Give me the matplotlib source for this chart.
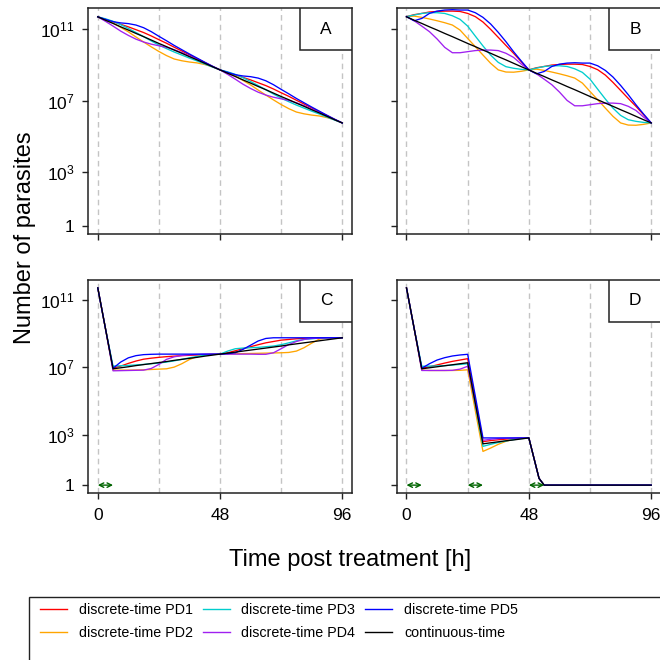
import numpy as np
import matplotlib
matplotlib.use("Agg")
import matplotlib.pyplot as plt
from matplotlib.patches import Rectangle
from matplotlib.lines import Line2D
from matplotlib.ticker import FixedLocator, NullLocator

plt.rcParams['font.family'] = ['Liberation Sans', 'DejaVu Sans']
plt.rcParams['mathtext.fontset'] = 'custom'
plt.rcParams['mathtext.rm'] = 'Liberation Sans'
plt.rcParams['mathtext.it'] = 'Liberation Sans'

# time grids (hours post treatment)
hours = [0, 3, 6, 9, 12, 15, 18, 21, 24, 27, 30, 33, 36, 39, 42, 45, 48,
         51, 54, 57, 60, 63, 66, 69, 72, 75, 78, 81, 84, 87, 90, 93, 96]
hours_d = [0, 3, 6, 9, 12, 15, 18, 21, 24, 27, 30, 33, 36, 39, 42, 45, 48,
           50, 52, 54, 57, 60, 63, 66, 69, 72, 75, 78, 81, 84, 87, 90, 93, 96]

# log10(number of parasites)
a_pd1 = [11.69, 11.54, 11.41, 11.27, 11.13, 10.97, 10.81, 10.62, 10.41, 10.21, 9.99, 9.78, 9.56, 9.35, 9.14, 8.92, 8.72,
         8.57, 8.44, 8.30, 8.16, 8.00, 7.84, 7.65, 7.44, 7.24, 7.02, 6.81, 6.59, 6.38, 6.17, 5.95, 5.75]
a_pd2 = [11.69, 11.52, 11.34, 11.10, 10.85, 10.56, 10.28, 10.01, 9.75, 9.52, 9.33, 9.23, 9.16, 9.11, 9.02, 8.90, 8.72,
         8.55, 8.37, 8.13, 7.88, 7.59, 7.31, 7.04, 6.78, 6.55, 6.36, 6.26, 6.19, 6.14, 6.05, 5.93, 5.75]
a_pd3 = [11.69, 11.58, 11.44, 11.25, 11.04, 10.81, 10.58, 10.34, 10.11, 9.91, 9.72, 9.55, 9.38, 9.22, 9.05, 8.88, 8.72,
         8.61, 8.47, 8.28, 8.07, 7.84, 7.61, 7.37, 7.14, 6.94, 6.75, 6.58, 6.41, 6.25, 6.08, 5.91, 5.75]
a_pd4 = [11.69, 11.44, 11.17, 10.89, 10.65, 10.44, 10.28, 10.16, 10.07, 9.98, 9.85, 9.69, 9.50, 9.31, 9.11, 8.91, 8.72,
         8.47, 8.20, 7.92, 7.68, 7.47, 7.31, 7.19, 7.10, 7.01, 6.88, 6.72, 6.53, 6.34, 6.14, 5.94, 5.75]
a_pd5 = [11.69, 11.55, 11.42, 11.35, 11.31, 11.23, 11.08, 10.86, 10.60, 10.35, 10.09, 9.85, 9.61, 9.38, 9.15, 8.93, 8.72,
         8.58, 8.45, 8.38, 8.34, 8.26, 8.11, 7.89, 7.63, 7.38, 7.12, 6.88, 6.64, 6.41, 6.18, 5.96, 5.75]
a_ct = [11.69, 11.50, 11.32, 11.13, 10.95, 10.76, 10.58, 10.39, 10.20, 10.02, 9.83, 9.65, 9.46, 9.28, 9.09, 8.90, 8.72,
        8.53, 8.35, 8.16, 7.98, 7.79, 7.61, 7.42, 7.23, 7.05, 6.86, 6.68, 6.49, 6.31, 6.12, 5.93, 5.75]

b_pd1 = [11.70, 11.81, 11.88, 11.96, 11.99, 12.01, 12.01, 11.99, 11.88, 11.70, 11.40, 10.99, 10.54, 10.09, 9.65, 9.18, 8.72,
         8.84, 8.91, 8.99, 9.02, 9.04, 9.04, 9.02, 8.91, 8.73, 8.43, 8.02, 7.57, 7.12, 6.68, 6.21, 5.75]
b_pd2 = [11.70, 11.73, 11.66, 11.57, 11.47, 11.36, 11.23, 10.95, 10.48, 10.02, 9.55, 9.09, 8.72, 8.60, 8.59, 8.64, 8.72,
         8.76, 8.69, 8.60, 8.50, 8.39, 8.26, 7.98, 7.51, 7.05, 6.58, 6.12, 5.75, 5.63, 5.62, 5.67, 5.75]
b_pd3 = [11.70, 11.79, 11.88, 11.92, 11.92, 11.88, 11.75, 11.55, 11.17, 10.61, 10.06, 9.55, 9.14, 8.90, 8.81, 8.75, 8.72,
         8.82, 8.91, 8.95, 8.95, 8.91, 8.78, 8.58, 8.20, 7.64, 7.09, 6.58, 6.17, 5.93, 5.84, 5.78, 5.75]
b_pd4 = [11.70, 11.47, 11.17, 10.86, 10.45, 9.98, 9.68, 9.68, 9.74, 9.80, 9.83, 9.83, 9.80, 9.65, 9.42, 9.05, 8.72,
         8.50, 8.20, 7.89, 7.48, 7.01, 6.71, 6.71, 6.77, 6.83, 6.86, 6.86, 6.83, 6.68, 6.45, 6.08, 5.75]
b_pd5 = [11.70, 11.47, 11.60, 11.88, 12.01, 12.07, 12.09, 12.07, 12.07, 11.92, 11.66, 11.29, 10.82, 10.30, 9.74, 9.22, 8.72,
         8.50, 8.63, 8.91, 9.04, 9.10, 9.12, 9.10, 9.10, 8.95, 8.69, 8.32, 7.85, 7.33, 6.77, 6.25, 5.75]
b_ct = [11.69, 11.50, 11.32, 11.13, 10.95, 10.76, 10.58, 10.39, 10.20, 10.02, 9.83, 9.65, 9.46, 9.28, 9.09, 8.90, 8.72,
        8.53, 8.35, 8.16, 7.98, 7.79, 7.61, 7.42, 7.23, 7.05, 6.86, 6.68, 6.49, 6.31, 6.12, 5.93, 5.75]

c_pd1 = [11.70, 9.30, 6.95, 7.06, 7.22, 7.36, 7.47, 7.53, 7.58, 7.62, 7.65, 7.68, 7.70, 7.72, 7.74, 7.76, 7.77,
         7.85, 7.97, 8.09, 8.21, 8.33, 8.44, 8.52, 8.60, 8.64, 8.68, 8.70, 8.72, 8.74, 8.74, 8.74, 8.74]
c_pd2 = [11.70, 9.30, 6.82, 6.82, 6.82, 6.83, 6.84, 6.86, 6.88, 6.90, 7.00, 7.20, 7.45, 7.63, 7.73, 7.76, 7.77,
         7.78, 7.79, 7.80, 7.81, 7.82, 7.83, 7.84, 7.85, 7.87, 7.95, 8.15, 8.42, 8.66, 8.72, 8.74, 8.74]
c_pd3 = [11.70, 9.30, 7.06, 7.08, 7.10, 7.13, 7.16, 7.20, 7.24, 7.30, 7.37, 7.46, 7.55, 7.63, 7.70, 7.75, 7.77,
         7.95, 8.09, 8.13, 8.15, 8.17, 8.21, 8.25, 8.33, 8.44, 8.56, 8.64, 8.68, 8.72, 8.74, 8.74, 8.74]
c_pd4 = [11.70, 9.30, 6.78, 6.79, 6.80, 6.81, 6.82, 6.92, 7.16, 7.46, 7.61, 7.69, 7.73, 7.75, 7.77, 7.77, 7.77,
         7.77, 7.77, 7.77, 7.77, 7.76, 7.76, 7.85, 8.09, 8.34, 8.52, 8.64, 8.70, 8.72, 8.74, 8.74, 8.74]
c_pd5 = [11.70, 9.30, 6.93, 7.30, 7.55, 7.68, 7.74, 7.76, 7.77, 7.77, 7.77, 7.77, 7.77, 7.77, 7.77, 7.77, 7.77,
         7.80, 7.85, 8.05, 8.30, 8.55, 8.70, 8.74, 8.74, 8.74, 8.74, 8.74, 8.74, 8.74, 8.74, 8.74, 8.74]
c_ct = [11.70, 9.30, 6.90, 6.96, 7.02, 7.09, 7.15, 7.21, 7.27, 7.33, 7.40, 7.46, 7.52, 7.58, 7.65, 7.71, 7.77,
        7.83, 7.89, 7.95, 8.01, 8.07, 8.13, 8.19, 8.25, 8.32, 8.38, 8.44, 8.50, 8.56, 8.62, 8.68, 8.74]

d_pd1 = [11.70, 9.30, 6.93, 7.02, 7.13, 7.24, 7.34, 7.42, 7.50, 5.03, 2.58, 2.64, 2.69, 2.73, 2.76, 2.78, 2.80,
         1.60, 0.40, 0.0, 0.0, 0.0, 0.0, 0.0, 0.0, 0.0, 0.0, 0.0, 0.0, 0.0, 0.0, 0.0, 0.0, 0.0]
d_pd2 = [11.70, 9.30, 6.82, 6.80, 6.80, 6.80, 6.80, 6.81, 6.84, 4.42, 2.00, 2.20, 2.42, 2.60, 2.72, 2.78, 2.80,
         1.60, 0.40, 0.0, 0.0, 0.0, 0.0, 0.0, 0.0, 0.0, 0.0, 0.0, 0.0, 0.0, 0.0, 0.0, 0.0, 0.0]
d_pd3 = [11.70, 9.30, 7.05, 7.06, 7.07, 7.09, 7.12, 7.16, 7.20, 4.75, 2.30, 2.42, 2.53, 2.62, 2.70, 2.76, 2.80,
         1.60, 0.40, 0.0, 0.0, 0.0, 0.0, 0.0, 0.0, 0.0, 0.0, 0.0, 0.0, 0.0, 0.0, 0.0, 0.0, 0.0]
d_pd4 = [11.70, 9.30, 6.80, 6.80, 6.80, 6.80, 6.81, 6.88, 7.05, 4.85, 2.66, 2.72, 2.76, 2.78, 2.79, 2.80, 2.80,
         1.60, 0.40, 0.0, 0.0, 0.0, 0.0, 0.0, 0.0, 0.0, 0.0, 0.0, 0.0, 0.0, 0.0, 0.0, 0.0, 0.0]
d_pd5 = [11.70, 9.30, 6.93, 7.20, 7.42, 7.56, 7.66, 7.72, 7.76, 5.28, 2.80, 2.80, 2.80, 2.80, 2.80, 2.80, 2.80,
         1.60, 0.40, 0.0, 0.0, 0.0, 0.0, 0.0, 0.0, 0.0, 0.0, 0.0, 0.0, 0.0, 0.0, 0.0, 0.0, 0.0]
d_ct = [11.70, 9.30, 6.90, 6.96, 7.02, 7.08, 7.14, 7.20, 7.26, 4.85, 2.45, 2.51, 2.57, 2.63, 2.68, 2.74, 2.80,
        1.60, 0.40, 0.0, 0.0, 0.0, 0.0, 0.0, 0.0, 0.0, 0.0, 0.0, 0.0, 0.0, 0.0, 0.0, 0.0, 0.0]

# dosing intervals marked by green arrows
doses_c = [(0, 6)]
doses_d = [(0, 6), (24, 30), (48, 54)]

labels = ['discrete-time PD1', 'discrete-time PD2', 'discrete-time PD3',
          'discrete-time PD4', 'discrete-time PD5', 'continuous-time']
colors = ['#ff0000', '#ffa500', '#00cdcd', '#a020f0', '#0000ff', '#000000']

panels = [
    ('A', hours, [a_pd1, a_pd2, a_pd3, a_pd4, a_pd5, a_ct], [], (88, 8.3, 352, 234)),
    ('B', hours, [b_pd1, b_pd2, b_pd3, b_pd4, b_pd5, b_ct], [], (396.7, 8.3, 661, 234)),
    ('C', hours, [c_pd1, c_pd2, c_pd3, c_pd4, c_pd5, c_ct], doses_c, (88, 280, 352, 493)),
    ('D', hours_d, [d_pd1, d_pd2, d_pd3, d_pd4, d_pd5, d_ct], doses_d, (396.7, 280, 661, 493)),
]

W = H = 660.0
edge = '#222222'
fig = plt.figure(figsize=(6.6, 6.6), dpi=100)

for letter, t, series, doses, (l, top, r, b) in panels:
    ax = fig.add_axes([l / W, 1 - b / H, (r - l) / W, (b - top) / H])
    for x in [0, 24, 48, 72, 96]:
        ax.axvline(x, color='#c4c4c4', lw=1.0, ls=(0, (4, 3)), zorder=0)
    for vals, c in zip(series, colors):
        ax.plot(t, 10 ** np.array(vals), color=c, lw=0.95)
    ax.set_yscale('log')
    ax.set_xlim(-3.84, 99.84)
    ax.set_ylim(10 ** -0.467, 10 ** 12.167)
    ax.xaxis.set_major_locator(FixedLocator([0, 48, 96]))
    ax.yaxis.set_major_locator(FixedLocator([1, 1e3, 1e7, 1e11]))
    ax.yaxis.set_minor_locator(NullLocator())
    ax.tick_params(direction='out', length=4.5, width=1, color=edge, labelsize=12.5)
    ax.tick_params(axis='x', pad=6)
    ax.tick_params(axis='y', pad=5)
    if letter in ('A', 'C'):
        ax.set_yticklabels(['1', r'$10^{3}$', r'$10^{7}$', r'$10^{11}$'])
    else:
        ax.set_yticklabels([])
    if letter in ('C', 'D'):
        ax.set_xticklabels(['0', '48', '96'])
    else:
        ax.set_xticklabels([])
    for s in ax.spines.values():
        s.set_color(edge)
        s.set_linewidth(1.1)
    # panel letter box
    bh = 42.0 / (b - top)
    ax.add_patch(Rectangle((0.803, 1 - bh), 0.197, bh, transform=ax.transAxes,
                           facecolor='white', edgecolor=edge, lw=1.1, zorder=5))
    ax.text(0.9015, 1 - bh / 2, letter, transform=ax.transAxes, ha='center', va='center',
            fontsize=12.5, zorder=6)
    for t0, t1 in doses:
        ax.annotate('', xy=(t1, 1), xytext=(t0, 1),
                    arrowprops=dict(arrowstyle='<->', color='#006400', lw=1.0,
                                    mutation_scale=8, shrinkA=0, shrinkB=0))

fig.text(25 / W, 1 - 238 / H, 'Number of parasites', rotation=90,
         ha='center', va='center', fontsize=17)
fig.text(350 / W, 1 - 560 / H, 'Time post treatment [h]',
         ha='center', va='center', fontsize=17)

# legend frame (runs off the right and bottom edges like the original)
fig.patches.append(Rectangle((29 / W, -0.2), 1.2, 0.2 + 1 - 596.7 / H,
                             transform=fig.transFigure, fill=False,
                             edgecolor=edge, lw=1.0))
handles = [Line2D([], [], color=c, lw=1.0) for c in colors]
fig.legend(handles, labels, ncol=3, frameon=False, loc='upper left',
           bbox_to_anchor=(40 / W, 1 - 603 / H), borderpad=0, borderaxespad=0,
           fontsize=10.3, handlelength=1.9, handletextpad=0.8,
           columnspacing=0.7, labelspacing=0.6)

fig.savefig('out.png', dpi=100)
